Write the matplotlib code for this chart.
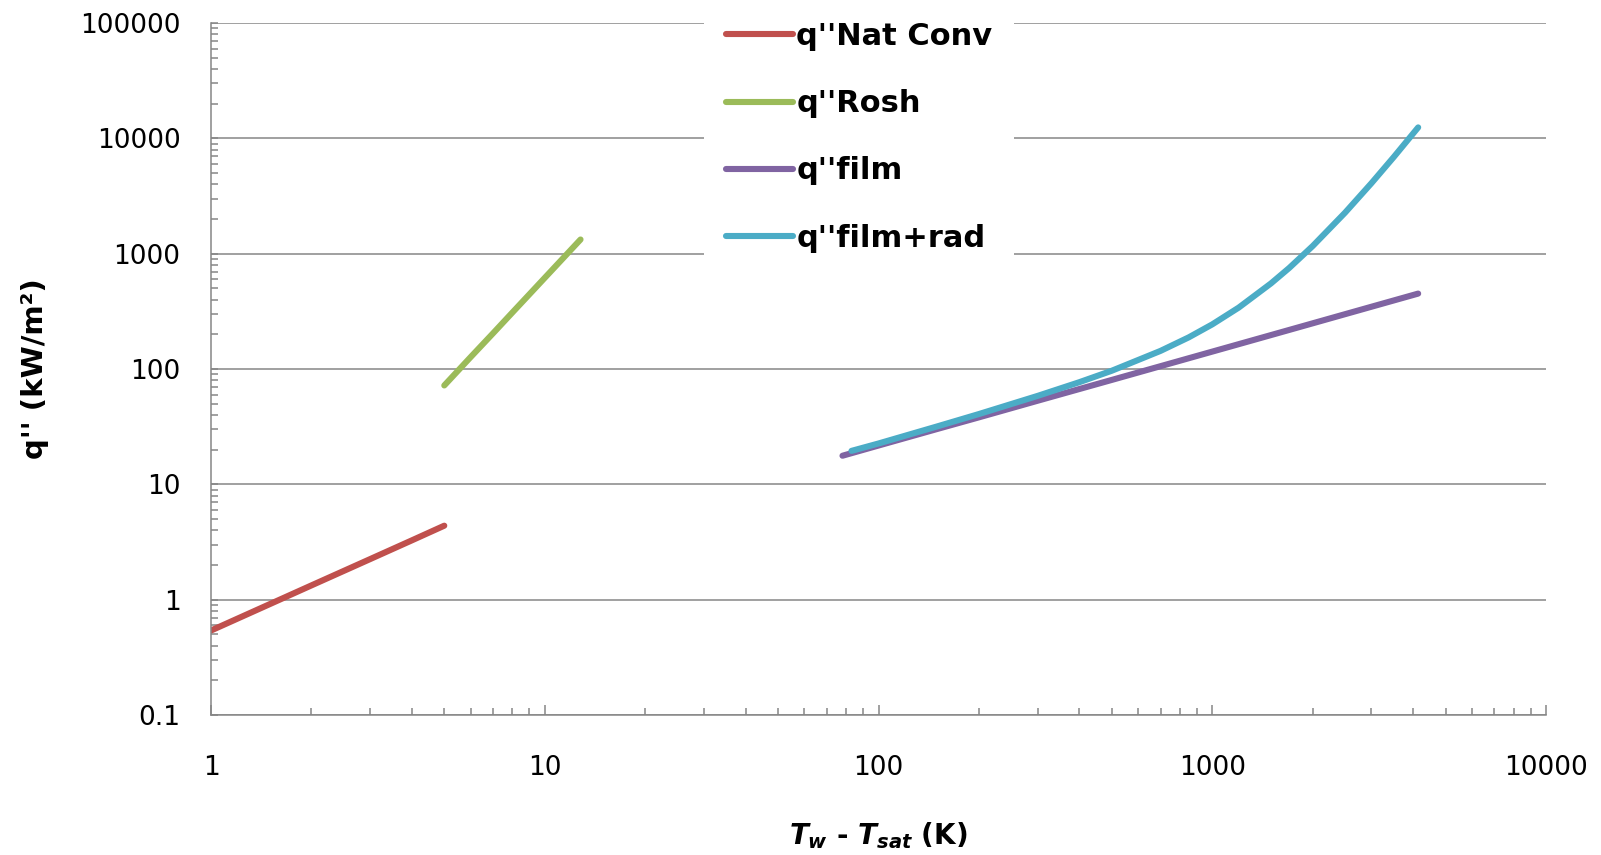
import matplotlib
matplotlib.use("Agg")
import matplotlib.pyplot as plt
from matplotlib.ticker import LogLocator, NullFormatter

# Boiling curve pieces (x: Tw - Tsat in K, y: q'' in kW/m2)
nat_x = [1, 2, 3, 4, 5]
nat_q = [0.54, 1.33, 2.25, 3.27, 4.38]

rosh_x = [5, 6, 7, 8, 9, 10, 11, 12, 12.8]
rosh_q = [72, 127, 204, 309, 445, 617, 829, 1086, 1327]

film_x = [78, 100, 150, 200, 300, 500, 700, 1000, 1500, 2000, 3000, 4140]
film_q = [17.7, 21.7, 30.2, 38.1, 53.1, 80.4, 105.8, 141.5, 196.9, 249, 346.7, 450.7]

rad_x = [83, 100, 150, 200, 300, 400, 500, 700, 850, 1000, 1200, 1500, 1700, 2000, 2500,
         3000, 3500, 4140]
rad_q = [19.5, 22.6, 31.8, 40.7, 58.5, 76.9, 96.6, 143.6, 188, 243.7, 340.6, 552.6, 751,
         1165, 2267, 4088, 6895, 12439]

x_ticks = [1, 10, 100, 1000, 10000]
x_labels = ['1', '10', '100', '1000', '10000']
y_ticks = [0.1, 1, 10, 100, 1000, 10000, 100000]
y_labels = ['0.1', '1', '10', '100', '1000', '10000', '100000']

GRAY = '#868686'

plt.rcParams['font.family'] = 'DejaVu Sans'
plt.rcParams['mathtext.fontset'] = 'custom'
plt.rcParams['mathtext.it'] = 'DejaVu Sans:italic:bold'
plt.rcParams['mathtext.rm'] = 'DejaVu Sans:bold'

fig = plt.figure(figsize=(16.01, 8.55), dpi=100)
ax = fig.add_axes([211 / 1601, 1 - 715 / 855, (1546 - 211) / 1601, (715 - 23) / 855])

lw = 4.4
ax.plot(nat_x, nat_q, color='#C0504D', lw=lw, solid_capstyle='round', label="q''Nat Conv")
ax.plot(rosh_x, rosh_q, color='#9BBB59', lw=lw, solid_capstyle='round', label="q''Rosh")
ax.plot(film_x, film_q, color='#8064A2', lw=lw, solid_capstyle='round', label="q''film")
ax.plot(rad_x, rad_q, color='#4BACC6', lw=lw, solid_capstyle='round', label="q''film+rad")

ax.set_xscale('log')
ax.set_yscale('log')
ax.set_xlim(1, 10000)
ax.set_ylim(0.1, 100000)

ax.set_xticks(x_ticks)
ax.set_xticklabels(x_labels)
ax.set_yticks(y_ticks)
ax.set_yticklabels(y_labels)
ax.xaxis.set_minor_locator(LogLocator(base=10, subs=range(2, 10)))
ax.yaxis.set_minor_locator(LogLocator(base=10, subs=range(2, 10)))
ax.xaxis.set_minor_formatter(NullFormatter())
ax.yaxis.set_minor_formatter(NullFormatter())

ax.tick_params(axis='x', which='major', direction='in', length=7, width=1.1, color=GRAY,
               labelsize=19, pad=29)
ax.tick_params(axis='x', which='minor', direction='in', length=5, width=1.1, color=GRAY)
ax.tick_params(axis='y', which='major', direction='in', length=5, width=1.1, color=GRAY,
               labelsize=19, pad=22)
ax.tick_params(axis='y', which='minor', direction='in', length=5, width=1.1, color=GRAY)

ax.grid(True, axis='y', which='major', color=GRAY, lw=1.1)
ax.set_axisbelow(True)
for side in ['top', 'right']:
    ax.spines[side].set_visible(False)
for side in ['left', 'bottom']:
    ax.spines[side].set_color(GRAY)
    ax.spines[side].set_linewidth(1.1)

ax.set_xlabel(r'$T_w$ - $T_{sat}$ (K)', fontsize=20, fontweight='bold', labelpad=28)
ax.set_ylabel("q'' (kW/m²)", fontsize=21, fontweight='bold', labelpad=22)

leg = ax.legend(loc='upper left', bbox_to_anchor=(704 / 1601, 1.0), bbox_transform=fig.transFigure,
                borderaxespad=0, frameon=True, fancybox=False, framealpha=1,
                prop={'size': 22, 'weight': 'bold'}, handlelength=2.2, handletextpad=0.1,
                labelspacing=1.25, borderpad=0.72)
leg.get_frame().set_edgecolor('none')
leg.get_frame().set_facecolor('white')

fig.savefig('out.png', dpi=100)
